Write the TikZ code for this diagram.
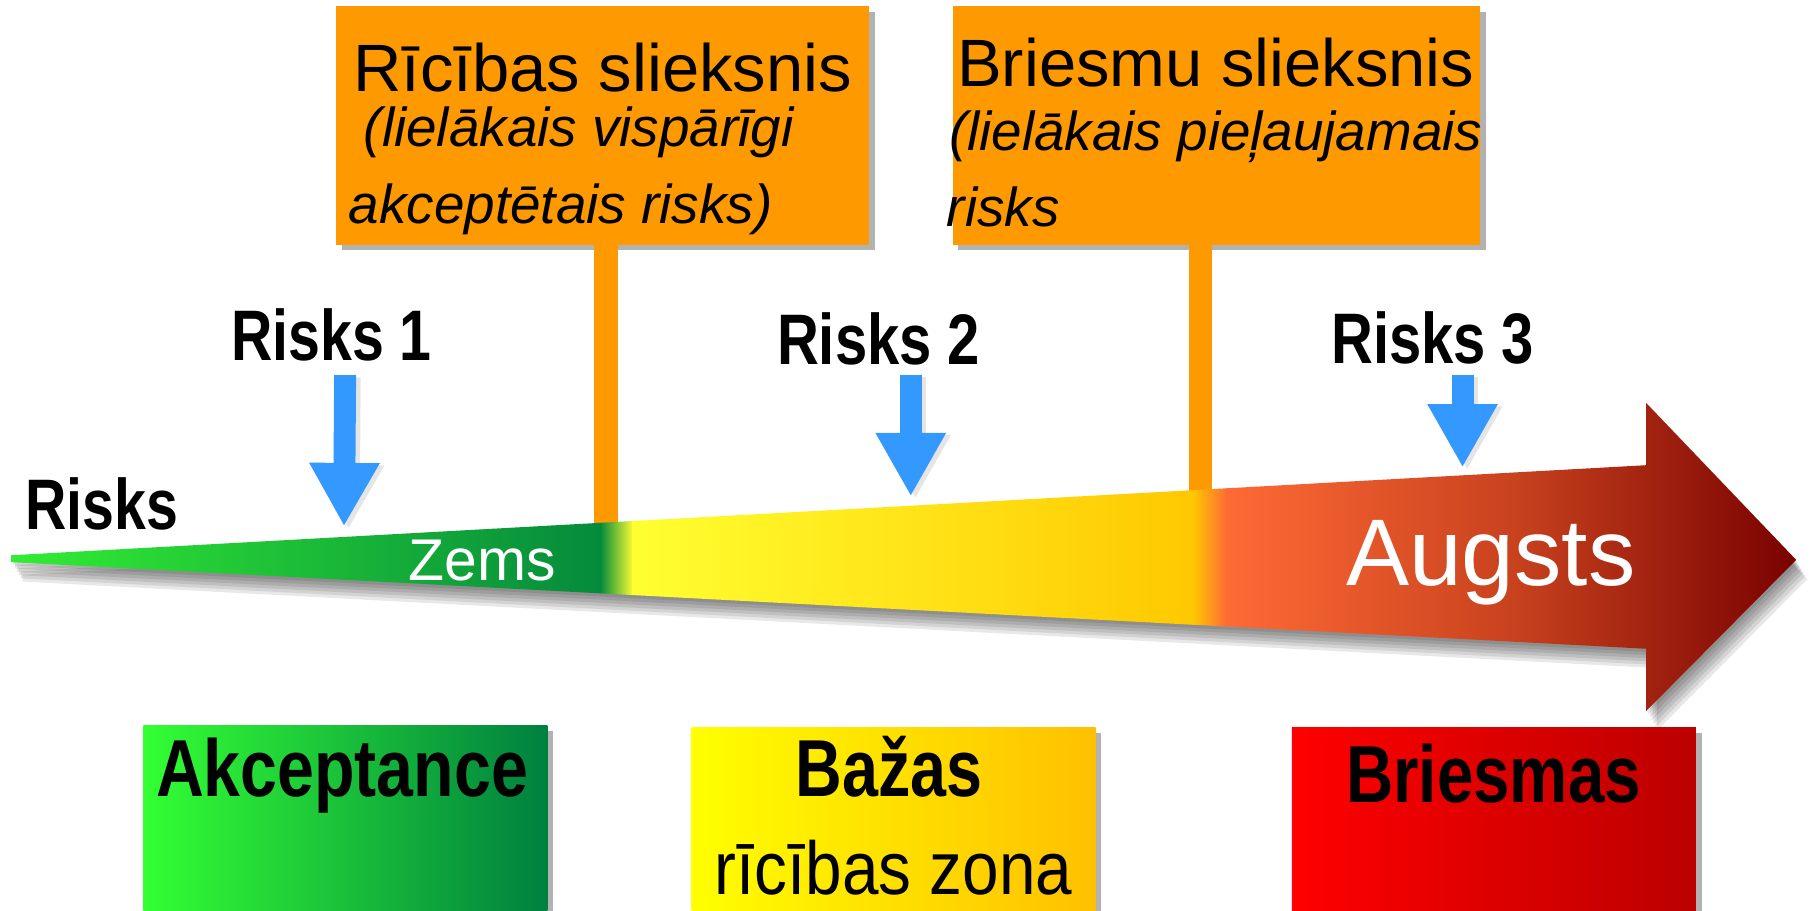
\documentclass[tikz,border=0pt]{standalone}
\usepackage{fontspec}
\setmainfont{Liberation Sans}
\usetikzlibrary{arrows.meta}
\definecolor{org}{HTML}{FF9900}
\definecolor{blu}{HTML}{3399FF}
\definecolor{gA}{HTML}{33EE33}
\definecolor{gB}{HTML}{058A3C}
\definecolor{yA}{HTML}{FFFF30}
\definecolor{yB}{HTML}{FFC800}
\definecolor{rA}{HTML}{FF6A35}
\definecolor{rM}{HTML}{C8421E}
\definecolor{rB}{HTML}{780000}
\begin{document}
\begin{tikzpicture}[x=1pt,y=-1pt,
  obox/.style={fill=org, draw=none, minimum width=#1, minimum height=207, anchor=north west, inner sep=0},
  zbox/.style={draw=none, minimum width=350, minimum height=#1, anchor=north west, inner sep=0},
  boxshadow/.style={fill=black!30},
  stem/.style={draw=org, line width=20pt},
  ttl/.style={anchor=base west, inner sep=0, font=\fontsize{58}{60}\selectfont},
  itl/.style={anchor=base west, inner sep=0, font=\fontsize{47.5}{50}\selectfont\itshape},
  rlab/.style={anchor=base west, inner sep=0, font=\fontsize{62}{64}\selectfont\bfseries},
  zlab/.style={anchor=base west, inner sep=0, font=\fontsize{70}{72}\selectfont\bfseries},
  barrow/.style={draw=blu, line width=19pt, -{Triangle[width=57pt,length=55pt]}},
  bshadow/.style={draw=black!10, line width=19pt, -{Triangle[width=57pt,length=55pt]}},
  wlab/.style={anchor=base west, inner sep=0, text=white}
]
\useasboundingbox (0,0) rectangle (1568,789);
\fill[white] (0,0) rectangle (1568,789);

% ---- shadow of the main arrow
\foreach \d in {1,2,3,4,5,6}{
  \begin{scope}[shift={(1.6*\d,2.8*\d)}]
    \fill[black, opacity=0.09] (10,481) -- (1426,403) -- (1426,349) -- (1556,485) -- (1426,616) -- (1426,562) -- (10,487) -- cycle;
  \end{scope}
}

% ---- box shadows
\fill[boxshadow] (296,10) rectangle (758,217);
\fill[boxshadow] (830,10) rectangle (1287,217);

% ---- threshold boxes
\node[obox=462] (b1) at (291,5) {};
\node[obox=457] (b2) at (825,5) {};

% ---- stems
\coordinate (s1) at (525,462);
\coordinate (s2) at (1040,434);
\draw[stem] (s1 |- b1.south) -- (s1);
\draw[stem] (s2 |- b2.south) -- (s2);

% ---- main arrow
\begin{scope}
  \clip (10,481) -- (1426,403) -- (1426,349) -- (1556,485) -- (1426,616) -- (1426,562) -- (10,487) -- cycle;
  \shade[left color=gA, right color=gB] (5,340) rectangle (521,630);
  \shade[left color=gB, right color=yA] (520,340) rectangle (549,630);
  \shade[left color=yA, right color=yB] (548,340) rectangle (1034,630);
  \shade[left color=yB, right color=rA] (1033,340) rectangle (1063,630);
  \shade[left color=rA, right color=rB, middle color=rM] (1062,340) rectangle (1560,630);
\end{scope}

% ---- arrow texts
\node[wlab, font=\fontsize{51}{53}\selectfont] (zems) at (354,503) {Zems};
\node[wlab, font=\fontsize{82}{84}\selectfont] (augsts) at (1166,507) {Augsts};

% ---- box texts
\node[ttl] (t1a) at (306,79) {Rīcības slieksnis};
\node[itl] (t1b) at (315,127) {(lielākais vispārīgi};
\node[itl] (t1c) at (302,194) {akceptētais risks)};
\node[ttl] (t2a) at (829,75) {Briesmu slieksnis};
\node[itl] (t2b) at (822,130) {(lielākais pieļaujamais};
\node[itl] (t2c) at (820,196) {risks};

% ---- risk labels
\node[rlab] (r0) at (22,459) {\scalebox{0.8}[1]{Risks}};
\node[rlab] (r1) at (200,312) {\scalebox{0.8}[1]{Risks 1}};
\node[rlab] (r2) at (673,316) {\scalebox{0.81}[1]{Risks 2}};
\node[rlab] (r3) at (1153,315) {\scalebox{0.81}[1]{Risks 3}};

% ---- blue arrows
\draw[bshadow] (303,327) -- (302,458);
\draw[bshadow] (793,327) -- (793,432);
\draw[bshadow] (1271,327) -- (1271,407);
\coordinate (a1s) at (299,325); \coordinate (a1e) at (298,456);
\coordinate (a2s) at (789,325); \coordinate (a2e) at (789,430);
\coordinate (a3s) at (1267,325); \coordinate (a3e) at (1267,405);
\draw[barrow] (a1s) -- (a1e);
\draw[barrow] (a2s) -- (a2e);
\draw[barrow] (a3s) -- (a3e);

% ---- zone boxes
\fill[boxshadow] (129,633) rectangle (479,789);
\fill[boxshadow] (604,635) rectangle (954,789);
\fill[boxshadow] (1124,635) rectangle (1474,789);
\node[zbox=161, left color={rgb,255:red,51;green,255;blue,51}, right color={rgb,255:red,0;green,128;blue,64}] (z1) at (124,628) {};
\node[zbox=159, left color={rgb,255:red,255;green,255;blue,0}, right color={rgb,255:red,255;green,192;blue,0}] (z2) at (599,630) {};
\node[zbox=159, left color={rgb,255:red,255;green,0;blue,0}, right color={rgb,255:red,187;green,0;blue,0}] (z3) at (1119,630) {};

\node[zlab] (z1t) at (135,690) {\scalebox{0.82}[1]{Akceptance}};
\node[zlab] (z2t) at (689,690) {\scalebox{0.8}[1]{Bažas}};
\node[anchor=base west, inner sep=0, font=\fontsize{65}{67}\selectfont] (z2u) at (619,775) {\scalebox{0.875}[1]{rīcības zona}};
\node[zlab] (z3t) at (1166,695) {\scalebox{0.81}[1]{Briesmas}};
\end{tikzpicture}
\end{document}
